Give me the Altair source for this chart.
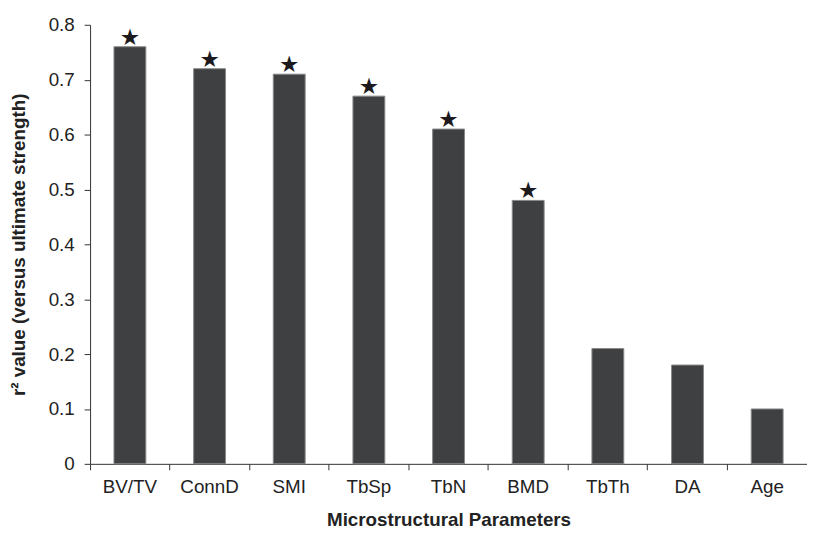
import altair as alt
import pandas as pd

params = ["BV/TV", "ConnD", "SMI", "TbSp", "TbN", "BMD", "TbTh", "DA", "Age"]
r2 = [0.76, 0.72, 0.71, 0.67, 0.61, 0.48, 0.21, 0.18, 0.10]
stars_mark = ["★", "★", "★", "★", "★", "★", "", "", ""]

df = pd.DataFrame({"param": params, "r2": r2, "star": stars_mark})

FONT = "Liberation Sans"

base = alt.Chart(df).encode(
    x=alt.X("param:N", sort=params, title="Microstructural Parameters",
            scale=alt.Scale(paddingInner=0, paddingOuter=0),
            axis=alt.Axis(labelAngle=0, labelFontSize=19, labelColor="#222",
                          titleFontSize=19, titleFontWeight="bold", titleColor="#222",
                          titlePadding=14, labelPadding=8, ticks=True, tickSize=6,
                          tickColor="#333", domainColor="#333", bandPosition=0,
                          labelFont=FONT, titleFont=FONT, orient="bottom")),
    y=alt.Y("r2:Q", title="r² value (versus ultimate strength)",
            scale=alt.Scale(domain=[0, 0.8], nice=False),
            axis=alt.Axis(values=[0, 0.1, 0.2, 0.3, 0.4, 0.5, 0.6, 0.7, 0.8],
                          labelExpr="datum.value == 0 ? '0' : format(datum.value, '.1f')",
                          labelFontSize=19, labelColor="#222", grid=False,
                          titleFontSize=19, titleFontWeight="bold", titleColor="#222",
                          titleX=-72, titleBaseline="middle",
                          labelPadding=10, tickSize=6,
                          tickColor="#333", domainColor="#333",
                          labelFont=FONT, titleFont=FONT)),
)

bars = base.mark_bar(color="#3f4042", stroke="#888", strokeWidth=1,
                     width={"band": 0.4})

stars = base.mark_text(fontSize=23, color="#1c1a1d", baseline="bottom", dy=3,
                       font="DejaVu Sans").encode(text="star:N")

chart = alt.layer(bars, stars).properties(
    width=725, height=444,
    padding={"left": 2, "top": 5, "right": 0, "bottom": 5},
    background="white",
).configure_view(stroke=None)

chart.save("out.html", embed_options={"renderer": "svg", "actions": False})
